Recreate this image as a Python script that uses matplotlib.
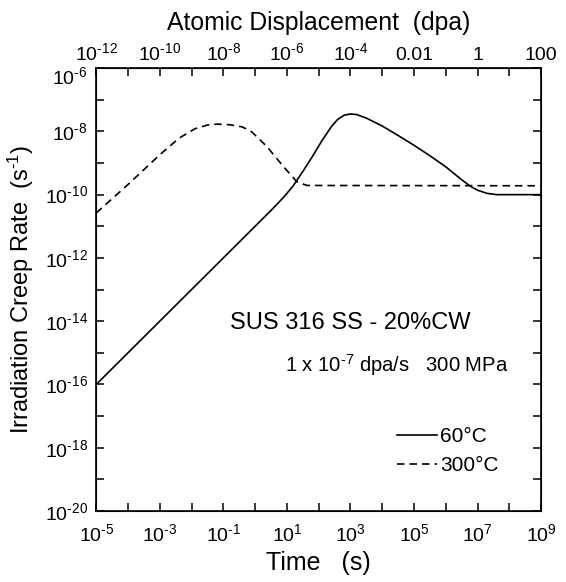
import numpy as np
import matplotlib
matplotlib.use("Agg")
import matplotlib.pyplot as plt
from matplotlib.ticker import FixedLocator, FixedFormatter, NullLocator
from matplotlib.transforms import ScaledTranslation

plt.rcParams['font.family'] = ['Liberation Sans', 'DejaVu Sans']
plt.rcParams['mathtext.fontset'] = 'custom'
plt.rcParams['mathtext.rm'] = 'Liberation Sans'
plt.rcParams['mathtext.it'] = 'Liberation Sans'

# 60 C curve (log10 time [s], log10 creep rate [1/s])
log_t_60 = [-5, -3, -1, 0, 0.5, 0.9, 1.2, 1.5, 1.8, 2.1, 2.4, 2.6, 2.8, 3.0, 3.2,
            3.5, 4.0, 4.5, 5.0, 5.5, 6.0, 6.5, 6.8, 7.0, 7.3, 7.6, 9.0]
log_r_60 = [-16.0, -14.0, -12.0, -11.0, -10.5, -10.08, -9.72, -9.27, -8.8, -8.3,
            -7.85, -7.62, -7.49, -7.45, -7.47, -7.58, -7.83, -8.13, -8.44, -8.77,
            -9.12, -9.53, -9.75, -9.86, -9.96, -10.0, -10.0]

# 300 C curve
log_t_300 = [-5, -4.0, -3.0, -2.4, -1.9, -1.5, -1.2, -0.8, -0.4, -0.1, 0.37,
             0.89, 1.31, 1.63, 9.0]
log_r_300 = [-10.58, -9.68, -8.74, -8.22, -7.92, -7.8, -7.77, -7.79, -7.86, -8.02,
             -8.48, -9.11, -9.59, -9.71, -9.72]

dpa_rate = 1e-7  # dpa/s

x_ticks = [10.0 ** k for k in range(-5, 10)]
x_labels = [f"$10^{{\\text{{-}}{-k}}}$" if k < 0 else f"$10^{{{k}}}$" for k in range(-5, 10)]
x_labels = [lab if k % 2 else "" for k, lab in zip(range(-5, 10), x_labels)]
y_ticks = [10.0 ** k for k in range(-20, -5)]
y_labels = [f"$10^{{\\text{{-}}{-k}}}$" if k % 2 == 0 else "" for k in range(-20, -5)]
top_ticks = [10.0 ** k for k in range(-12, 3)]
top_labels = ["$10^{\\text{-}12}$", "", "$10^{\\text{-}10}$", "", "$10^{\\text{-}8}$", "",
              "$10^{\\text{-}6}$", "", "$10^{\\text{-}4}$", "", "0.01", "", "1", "", "100"]

fig = plt.figure(figsize=(5.66, 5.82), dpi=100)
ax = fig.add_axes([0.170, 0.122, 0.786, 0.761])

ax.plot(10.0 ** np.array(log_t_60), 10.0 ** np.array(log_r_60), color='black',
        lw=1.2, label='60°C')
ax.plot(10.0 ** np.array(log_t_300), 10.0 ** np.array(log_r_300), color='black',
        lw=1.2, ls=(0, (4.5, 3)), label='300°C')

ax.set_xscale('log')
ax.set_yscale('log')
ax.set_xlim(1e-5, 1e9)
ax.set_ylim(1e-20, 1e-6)
ax.xaxis.set_major_locator(FixedLocator(x_ticks))
ax.xaxis.set_major_formatter(FixedFormatter(x_labels))
ax.xaxis.set_minor_locator(NullLocator())
ax.yaxis.set_major_locator(FixedLocator(y_ticks))
ax.yaxis.set_major_formatter(FixedFormatter(y_labels))
ax.yaxis.set_minor_locator(NullLocator())
ax.tick_params(axis='both', which='major', direction='in', length=6, width=1.1,
               labelsize=14, pad=6)
ax.tick_params(axis='x', pad=9)
ax.tick_params(axis='y', right=True)
for s in ax.spines.values():
    s.set_linewidth(1.2)

top = ax.twiny()
top.set_xscale('log')
top.set_xlim(1e-5 * dpa_rate, 1e9 * dpa_rate)
top.xaxis.set_major_locator(FixedLocator(top_ticks))
top.xaxis.set_major_formatter(FixedFormatter(top_labels))
top.xaxis.set_minor_locator(NullLocator())
top.tick_params(axis='x', direction='in', length=6, width=1.1, labelsize=14, pad=3)

ax.set_xlabel("Time   (s)", fontsize=18, labelpad=4)
ax.set_ylabel("Irradiation Creep Rate  (s$^{\\text{-}1}$)", fontsize=17, labelpad=6)
top.set_xlabel("Atomic Displacement  (dpa)", fontsize=17.8, labelpad=9)

ax.text(0.301, 0.424, "SUS 316 SS - 20%CW", transform=ax.transAxes, fontsize=17,
        ha='left', va='center')
ax.text(0.425, 0.33, "1 x 10$^{\\text{-}7}$ dpa/s   300 MPa", transform=ax.transAxes,
        fontsize=14.6, ha='left', va='center')

ax.legend(loc='upper left', bbox_to_anchor=(0.676, 0.19), frameon=False,
          fontsize=15, handlelength=1.92, handletextpad=0.15, labelspacing=0.49,
          borderpad=0, borderaxespad=0)

# nudge the topmost y label down so it clears the top axis labels
fig.canvas.draw()
lab = ax.yaxis.get_major_ticks()[-1].label1
lab.set_transform(lab.get_transform() + ScaledTranslation(0, -5 / 72, fig.dpi_scale_trans))

fig.savefig("out.png", dpi=100)
